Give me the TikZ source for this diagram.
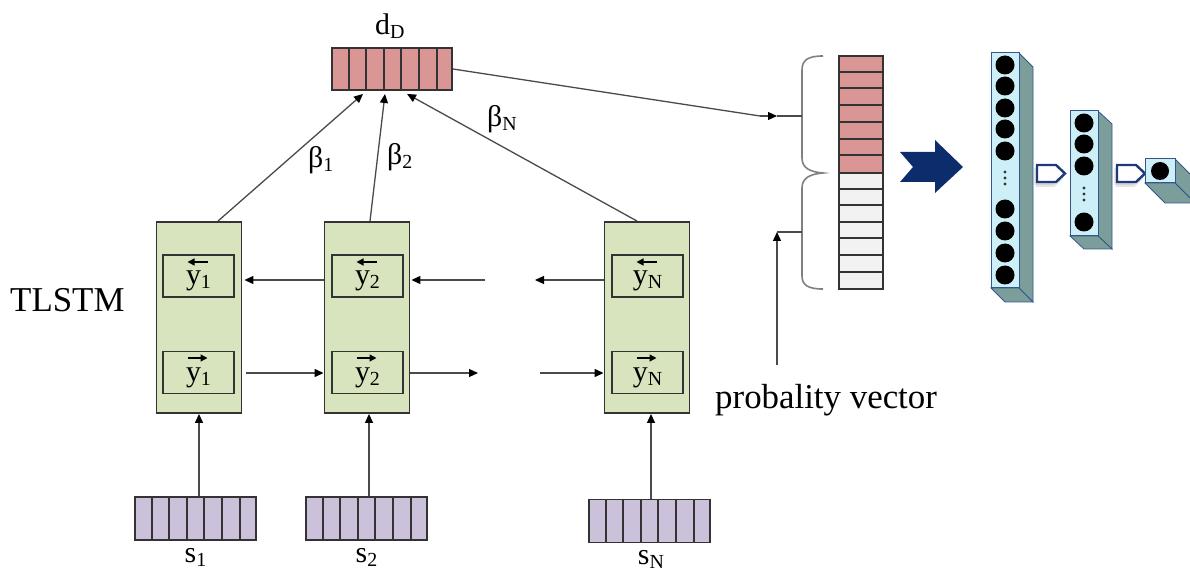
\documentclass[tikz,border=0pt]{standalone}
\usepackage{fontspec}
\setmainfont{Liberation Serif}
\usetikzlibrary{arrows.meta,calc}

\definecolor{cellred}{HTML}{D99694}
\definecolor{cellgreen}{HTML}{D7E4BD}
\definecolor{cellpurple}{HTML}{CCC1DA}
\definecolor{cellgrey}{HTML}{F2F2F2}
\definecolor{edge}{HTML}{333333}
\definecolor{wire}{HTML}{4A4A4A}
\definecolor{bracegrey}{HTML}{808080}
\definecolor{navy}{HTML}{0C2C6C}
\definecolor{layerfront}{HTML}{CDEFF7}
\definecolor{layerside}{HTML}{7C9E9A}
\definecolor{layeredge}{HTML}{34568C}
\definecolor{gateedge}{HTML}{1F3A7A}

\newcommand\bigfont{\fontsize{35}{40}\selectfont}
\newcommand\labfont{\fontsize{30}{34}\selectfont}
\newcommand\lowsub[1]{\raisebox{-4bp}{\fontsize{20}{22}\selectfont #1}}

% 3-D layer: front face (x1,y1)-(x2,y2), depth (dx,dy)
\newcommand\layerbox[6]{%
  \filldraw[fill=layerside, draw=layeredge, line width=0.8bp]
    (#3,#2) -- (#3+#5,#2+#6) -- (#3+#5,#4+#6) -- (#3,#4) -- cycle;
  \filldraw[fill=layerside, draw=layeredge, line width=0.8bp]
    (#1,#4) -- (#3,#4) -- (#3+#5,#4+#6) -- (#1+#5,#4+#6) -- cycle;
  \filldraw[fill=layerfront, draw=layeredge, line width=1bp] (#1,#2) rectangle (#3,#4);
}
% pentagon gate with a soft shadow, left edge x, top y
\newcommand\gate[2]{%
  \fill[black, opacity=0.08] (#1-3,#2+3) -- ++(19,0) -- ++(9,8.5) -- ++(-9,8.5) -- ++(-19,0) -- cycle;
  \fill[black, opacity=0.10] (#1-1.5,#2+5) -- ++(19,0) -- ++(9,8.5) -- ++(-9,8.5) -- ++(-19,0) -- cycle;
  \filldraw[fill=white, draw=gateedge, line width=2.4bp, line join=miter]
    (#1,#2) -- ++(19,0) -- ++(9,8.5) -- ++(-9,8.5) -- ++(-19,0) -- cycle;
}

\begin{document}
\begin{tikzpicture}[x=1bp, y=-1bp,
  wire/.style={draw=wire, line width=1.3bp},
  arr/.style={wire, -{Triangle[length=9bp,width=8bp,color=black]}},
  boxline/.style={draw=edge, line width=1.9bp, rectangle, inner sep=0pt},
  block/.style={boxline, fill=cellgreen, minimum width=85bp, minimum height=191bp},
  unit/.style={boxline, fill=cellgreen, minimum width=71bp, minimum height=42bp},
  hvec/.style={boxline, minimum width=121bp, minimum height=43bp},
  celldiv/.style={draw=edge, line width=2bp},
  txt/.style={inner sep=0pt, anchor=base west},
  ylab/.style={inner sep=0pt, anchor=base},
  overarrow/.style={draw=black, line width=1.3bp, -{Triangle[length=7bp,width=7bp]}},
]
\useasboundingbox (0,0) rectangle (1190,576);

% ---------- attention output vector d_D ----------
\node[hvec, fill=cellred, minimum width=120bp, minimum height=42bp] (dD) at (392,69) {};
\foreach \k in {1,...,6}
  \draw[celldiv] ([xshift=\k*17.6bp]dD.north west) -- ([xshift=\k*17.6bp]dD.south west);
\node[txt] (dDlab) at (375,35) {\labfont d\lowsub{D}};

% ---------- TLSTM blocks ----------
\node[block] (b1) at (199,317.5) {};
\node[block] (b2) at (367,317.5) {};
\node[block] (bN) at (647,317.5) {};

\node[unit] (u1) at (198.5,276) {};
\node[unit] (f1) at (198.5,372.5) {};
\node[unit] (u2) at (367.5,276) {};
\node[unit] (f2) at (367.5,372.5) {};
\node[unit] (uN) at (647.5,276) {};
\node[unit] (fN) at (647.5,372.5) {};

\foreach \n/\s in {1/1,2/2,N/N}{
  \node[ylab] (yb\n) at ([yshift=-9bp]u\n.center) {\labfont y\lowsub{\s}};
  \node[ylab] (yf\n) at ([yshift=-9bp]f\n.center) {\labfont y\lowsub{\s}};
  \draw[overarrow] ([shift={(9,-14)}]u\n.center) -- ([shift={(-11,-14)}]u\n.center);
  \draw[overarrow] ([shift={(-11,-14.5)}]f\n.center) -- ([shift={(9,-14.5)}]f\n.center);
}

\node[txt] (tlstm) at (10,312) {\bigfont TLSTM};

% recurrent connections
\coordinate (bkrow) at (0,280);
\coordinate (fwrow) at (0,373);
\coordinate (gapB1) at (535,280);
\coordinate (gapB2) at (485,280);
\coordinate (gapF1) at (478,373);
\coordinate (gapF2) at (540,373);
\draw[arr, shorten >=2bp] (b2.west |- bkrow) -- (b1.east |- bkrow);
\draw[arr, shorten >=1bp] (gapB2) -- (b2.east |- bkrow);
\draw[arr] (bN.west |- bkrow) -- (gapB1);
\draw[arr] ([xshift=4bp]b1.east |- fwrow) -- (b2.west |- fwrow);
\draw[arr] (b2.east |- fwrow) -- (gapF1);
\draw[arr] (gapF2) -- (bN.west |- fwrow);

% ---------- sentence vectors ----------
\node[hvec, fill=cellpurple] (s1) at (195.5,518.5) {};
\node[hvec, fill=cellpurple] (s2) at (366.5,518.5) {};
\node[hvec, fill=cellpurple] (sN) at (649.5,521) {};
\foreach \n in {s1,s2,sN}
  \foreach \k in {1,...,6}
    \draw[celldiv] ([xshift=\k*17.6bp]\n.north west) -- ([xshift=\k*17.6bp]\n.south west);
\node[ylab] (s1lab) at (195.5,562) {\labfont s\lowsub{1}};
\node[ylab] (s2lab) at (366.5,562) {\labfont s\lowsub{2}};
\node[ylab] (sNlab) at (651,564) {\labfont s\lowsub{N}};

\draw[arr] (b1.south |- s1.north) -- (b1.south);
\draw[arr] ([xshift=2bp]b2.south |- s2.north) -- ([xshift=2bp]b2.south);
\draw[arr] ([xshift=4bp]bN.south |- sN.north) -- ([xshift=4bp]bN.south);

% ---------- attention weights ----------
\draw[arr] ([xshift=19bp]b1.north) -- ([xshift=-29bp,yshift=-3bp]dD.south);
\draw[arr] ([xshift=3bp]b2.north) -- ([xshift=-7bp,yshift=-3bp]dD.south);
\draw[arr] ([xshift=-10bp]bN.north) -- ([xshift=15bp,yshift=-3bp]dD.south);
\node[txt] (beta1) at (308,168) {\labfont β\lowsub{1}};
\node[txt] (beta2) at (387,165) {\labfont β\lowsub{2}};
\node[txt] (betaN) at (487,127) {\labfont β\lowsub{N}};

% ---------- probability vector ----------
\node[boxline, fill=cellred, minimum width=44bp, minimum height=117bp] (pvtop) at (861,114.5) {};
\node[boxline, fill=cellgrey, minimum width=44bp, minimum height=116bp] (pvbot) at (861,231) {};
\foreach \k in {1,...,6}{
  \draw[celldiv] ([yshift=-\k*16.7bp]pvtop.north west) -- ([yshift=-\k*16.7bp]pvtop.north east);
  \draw[celldiv] ([yshift=-\k*16.6bp]pvbot.north west) -- ([yshift=-\k*16.6bp]pvbot.north east);
}

% double brace
\draw[bracegrey, line width=1.6bp]
  (823,56) .. controls (808,56) and (802,60) .. (802,70) -- (802,158)
  .. controls (802,168) and (810,172) .. (823,173)
  .. controls (810,174) and (802,178) .. (802,188) -- (802,276)
  .. controls (802,285) and (808,289) .. (823,289);

\coordinate (bend) at (760,116);
\coordinate (tipTop) at (777,116);
\coordinate (braceTop) at (802,116);
\draw[wire] (dD.east) -- (bend);
\draw[arr] (bend) -- (tipTop);
\draw[wire] (tipTop) -- (braceTop);

\node[txt] (pvlab) at (715,408) {\bigfont probality vector};
\coordinate (pvIn) at (777,365);
\coordinate (elbow) at (777,232);
\coordinate (braceBot) at (802,232);
\draw[arr] (pvIn) -- (elbow);
\draw[wire] (elbow) -- (braceBot);

% ---------- classifier ----------
\fill[navy] (900,152) -- (935,152) -- (935,140) -- (963,167) -- (935,193)
  -- (935,182) -- (900,182) -- (913,167) -- cycle;

\layerbox{991}{53}{1019}{288}{14}{14}
\foreach \y in {65,86,108,129,151,209,231,253,275}
  \fill[black] (1005,\y) circle[radius=9.5bp];
\foreach \y in {172,178,184}
  \fill[black!80] (1005,\y) circle[radius=1.6bp];

\gate{1037}{165}

\layerbox{1070}{111}{1098}{236}{14}{13}
\foreach \y in {123,144,166,222}
  \fill[black] (1084,\y) circle[radius=9.5bp];
\foreach \y in {188,194,200}
  \fill[black!80] (1084,\y) circle[radius=1.6bp];

\gate{1117}{165}

\layerbox{1145}{159}{1175}{183}{20}{20}
\fill[black] (1160,171) circle[radius=9bp];
\end{tikzpicture}
\end{document}
